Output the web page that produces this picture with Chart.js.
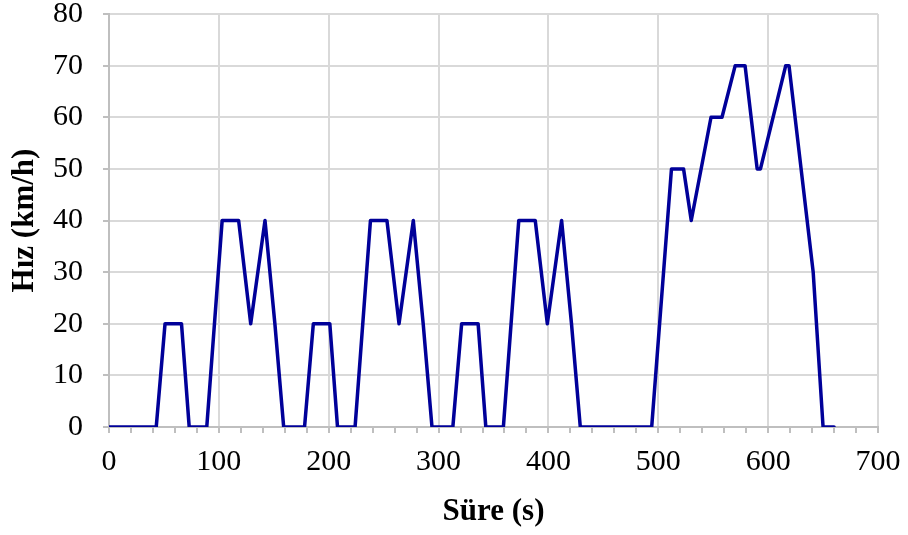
<!DOCTYPE html>
<html>
<head>
<meta charset="utf-8">
<script src="https://cdn.jsdelivr.net/npm/chart.js@4.4.1/dist/chart.umd.min.js"></script>
<style>
  html, body { margin: 0; padding: 0; background: #fff; }
  #wrap { width: 908px; height: 535px; }
</style>
</head>
<body>
<div id="wrap"><canvas id="myChart"></canvas></div>
<script>
// time (s) and speed (km/h) breakpoints
const times = [0, 43, 51, 66, 73, 89, 103, 118, 129, 142, 151, 159,
               178, 186, 201, 208, 224, 238, 253, 264, 277, 286, 294,
               313, 321, 336, 343, 359, 373, 388, 399, 412, 421, 429,
               494, 512, 523, 530, 548, 558, 570, 579, 590, 593, 616, 619, 641, 650, 660];
const speeds = [0, 0, 20, 20, 0, 0, 40, 40, 20, 40, 20, 0,
                0, 20, 20, 0, 0, 40, 40, 20, 40, 20, 0,
                0, 20, 20, 0, 0, 40, 40, 20, 40, 20, 0,
                0, 50, 50, 40, 60, 60, 70, 70, 50, 50, 70, 70, 30, 0, 0];

const xTitle = 'Süre (s)';
const yTitle = 'Hız (km/h)';

const points = times.map((t, i) => ({ x: t, y: speeds[i] }));

const ctx = document.getElementById('myChart');
const serif = "'Liberation Serif', 'Times New Roman', serif";
const tickFont = { family: serif, size: 30, lineHeight: 0.9 };
const titleFont = { family: serif, size: 31, weight: 'bold' };

new Chart(ctx, {
    type: 'line',
    data: {
        datasets: [{
            data: points,
            borderColor: '#000099',
            borderWidth: 3.5,
            borderJoinStyle: 'round',
            borderCapStyle: 'round',
            pointRadius: 0,
            tension: 0,
            fill: false
        }]
    },
    options: {
        responsive: true,
        maintainAspectRatio: false,
        animation: false,
        layout: { padding: { top: 14, right: 30, left: 0, bottom: 0 } },
        plugins: { legend: { display: false }, tooltip: { enabled: false } },
        scales: {
            x: {
                type: 'linear',
                min: 0,
                max: 700,
                border: { color: '#bfbfbf', width: 2 },
                grid: {
                    color: c => (c.tick && c.tick.value % 100 === 0) ? '#d9d9d9' : 'rgba(0,0,0,0)',
                    tickColor: '#bfbfbf',
                    tickLength: 6,
                    lineWidth: 2
                },
                ticks: {
                    stepSize: 20,
                    autoSkip: false,
                    maxRotation: 0,
                    color: '#000',
                    font: tickFont,
                    padding: 16,
                    callback: v => v % 100 === 0 ? v : ''
                },
                title: { display: true, text: xTitle, color: '#000', font: titleFont, padding: { top: 4, bottom: 4 } },
                afterFit: s => { s.height = 108; s.paddingLeft = 0; s.paddingRight = 0; }
            },
            y: {
                min: 0,
                max: 80,
                border: { color: '#bfbfbf', width: 2 },
                grid: { color: '#d9d9d9', tickColor: '#bfbfbf', tickLength: 6, lineWidth: 2 },
                ticks: { stepSize: 10, color: '#000', font: tickFont, padding: 20 },
                title: { display: true, text: yTitle, color: '#000', font: titleFont, padding: { top: 6, bottom: 4 } },
                afterFit: s => { s.width = 109; s.paddingTop = 0; s.paddingBottom = 0; }
            }
        }
    }
});
</script>
</body>
</html>
